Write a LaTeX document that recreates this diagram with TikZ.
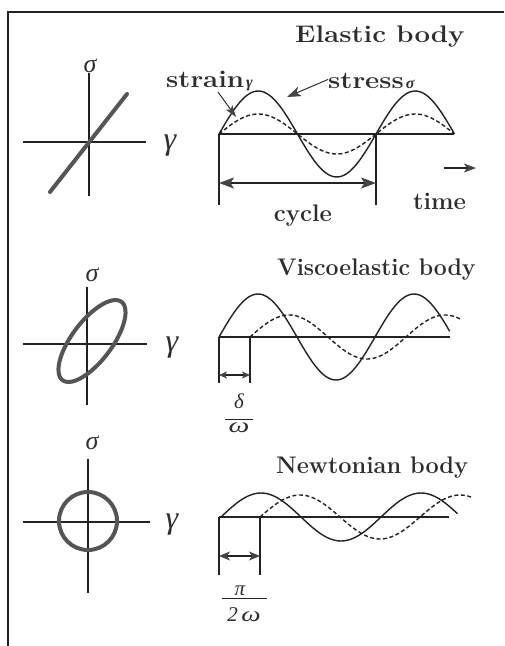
\documentclass[tikz,border=0pt]{standalone}
\usepackage{fontspec}
\usepackage{graphicx}
\usetikzlibrary{arrows.meta}
\newfontfamily\grk{Liberation Serif}
\definecolor{inkc}{HTML}{222222}
\definecolor{txtc}{HTML}{2E2E2E}
\definecolor{loopc}{HTML}{555555}
\definecolor{tipc}{HTML}{444444}
\begin{document}
\begin{tikzpicture}[x=1pt,y=-1pt,
  ln/.style={line width=1.1pt, draw=inkc},
  loopline/.style={line width=4pt, draw=loopc, line cap=round},
  wave/.style={line width=1.4pt, draw=inkc},
  dwave/.style={wave, dash pattern=on 4pt off 2.5pt},
  bigtips/.style={{Stealth[length=15pt,width=11pt,inset=3.5pt,fill=tipc,color=tipc]}-{Stealth[length=15pt,width=11pt,inset=3.5pt,fill=tipc,color=tipc]}},
  midtips/.style={{Stealth[length=11pt,width=9pt,inset=3pt,fill=tipc,color=tipc]}-{Stealth[length=11pt,width=9pt,inset=3pt,fill=tipc,color=tipc]}},
  smalltips/.style={{Stealth[length=8pt,width=7pt,inset=2pt,fill=tipc,color=tipc]}-{Stealth[length=8pt,width=7pt,inset=2pt,fill=tipc,color=tipc]}},
  title/.style={font=\fontsize{24}{24}\selectfont\bfseries, text=txtc, inner sep=0pt},
  lab/.style={font=\fontsize{24}{24}\selectfont\bfseries, text=txtc, inner sep=0pt},
  greek/.style={font=\fontsize{26}{26}\selectfont\grk\itshape, text=txtc, inner sep=0pt},
  biggreek/.style={font=\fontsize{32}{32}\selectfont\grk\itshape, text=txtc, inner sep=0pt},
  frac/.style={font=\fontsize{21}{21}\selectfont\grk\itshape, text=txtc, inner sep=0pt}]
\useasboundingbox (0,0) rectangle (504,646);
% frame
\coordinate (fTR) at (504,12);
\coordinate (fTL) at (8,12);
\coordinate (fBL) at (8,646);
\draw[ln] (fTR) -- (fTL) -- (fBL);

% ================= Elastic body =================
\node[title, anchor=base west] (t1) at (295,42) {\scalebox{1.15}[1]{Elastic body}};
\coordinate (a1L) at (23,142); \coordinate (a1R) at (146,142);
\coordinate (a1T) at (89,73);  \coordinate (a1B) at (89,196);
\draw[ln] (a1L) -- (a1R);
\draw[ln] (a1T) -- (a1B);
\node[greek] (s1) at (90,66) {σ};
\node[biggreek] (g1) at (170,146) {γ};
\coordinate (e1) at (50,192); \coordinate (e2) at (127,94);
\draw[loopline] (e1) -- (e2);
% waves
\coordinate (b1L) at (219,134); \coordinate (b1R) at (454,134);
\draw[ln] (b1L) -- (b1R);
\draw[wave] plot[domain=0:1.5, samples=90, smooth] ({219+157*\x},{134-43*sin(360*\x)});
\draw[dwave] plot[domain=0:1.5, samples=90, smooth] ({219+157*\x},{134-20*sin(360*\x)});
\coordinate (v1a) at (219,205); \coordinate (v1b) at (376,134); \coordinate (v1c) at (376,205);
\draw[ln] (b1L) -- (v1a);
\draw[ln] (v1b) -- (v1c);
\coordinate (cyL) at (219,183); \coordinate (cyR) at (376,183);
\draw[ln, bigtips] (cyL) -- (cyR);
\node[lab, anchor=base] (cyc) at (303,221) {cycle};
\node[lab, anchor=base west] (tim) at (413,209) {time};
\coordinate (tA) at (444,168); \coordinate (tB) at (476,168);
\draw[ln, -{Stealth[length=12pt,width=9pt,inset=3pt,fill=tipc,color=tipc]}] (tA) -- (tB);
\node[lab, anchor=base west] (strain) at (166,87) {\scalebox{1.15}[1]{strain}\hspace{2pt}{\fontsize{16}{16}\selectfont\grk\itshape γ}};
\node[lab, anchor=base west] (stress) at (328,88) {\scalebox{1.15}[1]{stress}\hspace{2pt}{\fontsize{16}{16}\selectfont\grk\itshape σ}};
\coordinate (stA) at (218,92); \coordinate (stB) at (236,117);
\draw[line width=0.9pt, draw=inkc, -{Stealth[length=12pt,width=8pt,inset=3pt,fill=tipc,color=tipc]}] (stA) -- (stB);
\coordinate (ssB) at (287,97);
\draw[line width=0.9pt, draw=inkc, -{Stealth[length=14pt,width=10pt,inset=3.5pt,fill=tipc,color=tipc]}] ([yshift=1pt]stress.west) -- (ssB);

% ================= Viscoelastic body =================
\node[title, anchor=base west] (t2) at (277,275) {\scalebox{0.96}[1]{Viscoelastic body}};
\coordinate (a2L) at (23,344); \coordinate (a2R) at (147,344);
\coordinate (a2T) at (87,287);  \coordinate (a2B) at (87,405);
\draw[ln] (a2L) -- (a2R);
\draw[ln] (a2T) -- (a2B);
\node[greek] (s2) at (92,275) {σ};
\node[biggreek] (g2) at (172,348) {γ};
\draw[loopline] plot[domain=0:360, samples=73, smooth cycle] ({92 + 49*cos(\x)*cos(53) - 20*sin(\x)*sin(53)},{341 - 49*cos(\x)*sin(53) - 20*sin(\x)*cos(53)});
\coordinate (b2L) at (219,337); \coordinate (b2R) at (450,337);
\draw[ln] (b2L) -- (b2R);
\draw[wave] plot[domain=0:1.48, samples=90, smooth] ({219+156*\x},{337-43*sin(360*\x)});
\draw[dwave] plot[domain=0:1.35, samples=90, smooth] ({250+156*\x},{337-22*sin(360*\x)});
\coordinate (v2a) at (219,383); \coordinate (v2b) at (250,337); \coordinate (v2c) at (250,383);
\draw[ln] (b2L) -- (v2a);
\draw[ln] (v2b) -- (v2c);
\coordinate (dL) at (219,375); \coordinate (dR) at (250,375);
\draw[ln, smalltips] (dL) -- (dR);
\node[frac] (dl) at (239,401) {δ};
\coordinate (fr1L) at (225,419); \coordinate (fr1R) at (253,419);
\draw[line width=1pt, draw=inkc] (fr1L) -- (fr1R);
\node[frac] (om1) at (239,428) {\scalebox{1.4}[1]{ω}};

% ================= Newtonian body =================
\node[title, anchor=base west] (t3) at (276,473) {\scalebox{0.98}[1]{Newtonian body}};
\coordinate (a3L) at (23,522); \coordinate (a3R) at (150,522);
\coordinate (a3T) at (88,459);  \coordinate (a3B) at (88,593);
\draw[ln] (a3L) -- (a3R);
\draw[ln] (a3T) -- (a3B);
\node[greek] (s3) at (92,443) {σ};
\node[biggreek] (g3) at (172,525) {γ};
\node[circle, draw=loopc, line width=4pt, minimum size=58pt, inner sep=0pt] (circ) at (88,521) {};
\coordinate (b3L) at (219,517); \coordinate (b3R) at (449,517);
\draw[ln] (b3L) -- (b3R);
\draw[wave] plot[domain=0:1.48, samples=90, smooth] ({221+160*\x},{517-24*sin(360*\x)});
\draw[dwave] plot[domain=0:1.33, samples=90, smooth] ({260+160*\x},{517-22*sin(360*\x)});
\coordinate (v3a) at (219,575); \coordinate (v3b) at (260,517); \coordinate (v3c) at (260,575);
\draw[ln] (b3L) -- (v3a);
\draw[ln] (v3b) -- (v3c);
\coordinate (pL) at (219,556); \coordinate (pR) at (260,556);
\draw[ln, midtips] (pL) -- (pR);
\node[frac] (pi) at (240,591) {π};
\coordinate (fr2L) at (222,598); \coordinate (fr2R) at (267,598);
\draw[line width=1pt, draw=inkc] (fr2L) -- (fr2R);
\node[frac, anchor=base] (tw) at (244,621) {2\,\scalebox{1.3}[1]{ω}};
\end{tikzpicture}
\end{document}
